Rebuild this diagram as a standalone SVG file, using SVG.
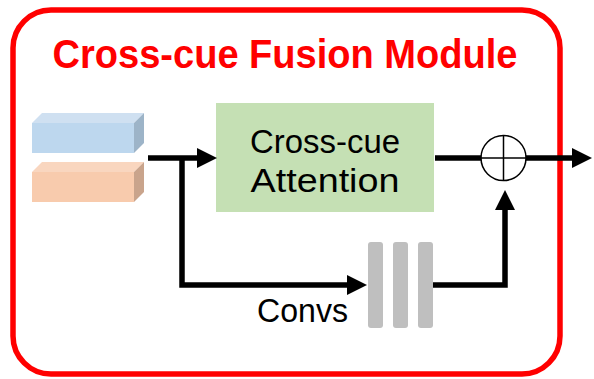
<svg xmlns="http://www.w3.org/2000/svg" width="594" height="379" viewBox="0 0 594 379">
<style>
.lbl{font-family:"Liberation Sans",Arial,sans-serif;font-size:33px;fill:#000}
.conn{fill:none;stroke:#000;stroke-width:5.5;stroke-linejoin:miter}
.bar{fill:#BFBFBF}
</style>
<defs>
<marker id="ah" markerUnits="userSpaceOnUse" markerWidth="20" markerHeight="20" refX="10" refY="10" orient="auto" viewBox="0 0 20 20">
<path d="M0,0 L20,10 L0,20 z" fill="#000"/>
</marker>
</defs>
<rect x="0" y="0" width="594" height="379" fill="#fff"/>
<g id="module">
<rect x="13" y="10" width="547" height="364" rx="38" ry="38" fill="none" stroke="#FF0000" stroke-width="5.5"/>
<text x="285" y="68" text-anchor="middle" style="font-family:'Liberation Sans',Arial,sans-serif;font-size:41px;font-weight:bold;fill:#FF0000" textLength="465" lengthAdjust="spacingAndGlyphs">Cross-cue Fusion Module</text>
</g>
<g id="input-blue">
<polygon points="32,123 42,113 144,113 134,123" fill="#CFE0F1"/>
<polygon points="134,123 144,113 144,143 134,153" fill="#9DB4C8"/>
<rect x="32" y="123" width="102" height="30" fill="#BDD7EE"/>
</g>
<g id="input-orange">
<polygon points="32,172 42,162 144,162 134,172" fill="#F9D6BF"/>
<polygon points="134,172 144,162 144,192 134,202" fill="#C9A48C"/>
<rect x="32" y="172" width="102" height="30" fill="#F8CBAD"/>
</g>
<g id="attention">
<rect x="216" y="103" width="218" height="109" fill="#C5E0B4"/>
<text class="lbl" x="325" y="153" text-anchor="middle" textLength="150" lengthAdjust="spacingAndGlyphs">Cross-cue</text>
<text class="lbl" x="325" y="192" text-anchor="middle" textLength="149" lengthAdjust="spacingAndGlyphs">Attention</text>
</g>
<g id="convs">
<rect class="bar" x="368" y="242" width="15" height="86" rx="3"/>
<rect class="bar" x="393" y="242" width="15" height="86" rx="3"/>
<rect class="bar" x="418" y="242" width="15" height="86" rx="3"/>
<text class="lbl" x="257" y="322" textLength="91" lengthAdjust="spacingAndGlyphs">Convs</text>
</g>
<g id="sum">
<circle cx="503.5" cy="158" r="22.5" fill="#fff" stroke="#000" stroke-width="1.5"/>
<line x1="481" y1="158" x2="526" y2="158" stroke="#000" stroke-width="1.5"/>
<line x1="503.5" y1="135.5" x2="503.5" y2="180.5" stroke="#000" stroke-width="1.5"/>
</g>
<g id="connectors">
<path class="conn" d="M148,158 H207" marker-end="url(#ah)"/>
<path class="conn" d="M182,158 V285 H357" marker-end="url(#ah)"/>
<path class="conn" d="M433,285 H505 V200" marker-end="url(#ah)"/>
<path class="conn" d="M435,158 H481"/>
<path class="conn" d="M526,158 H582" marker-end="url(#ah)"/>
</g>
</svg>
